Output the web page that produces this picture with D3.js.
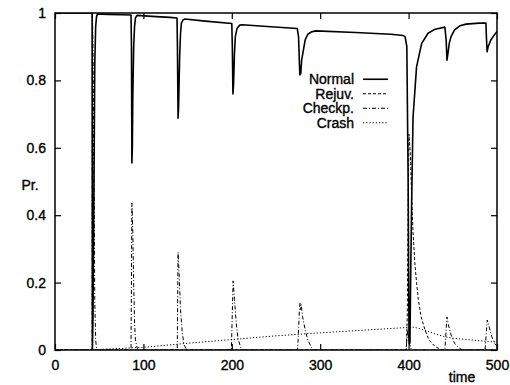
<!DOCTYPE html>
<html>
<head>
<meta charset="utf-8">
<script src="https://cdn.jsdelivr.net/npm/d3@7"></script>
<style>
  body { margin: 0; background: #fff; }
  svg text { font-family: "Liberation Sans", Arial, Helvetica, sans-serif; stroke: #000; stroke-width: 0.35px; }
</style>
</head>
<body>
<svg id="chart"></svg>
<script>
// values: [time, probability]
const normal = [
  [0, 1], [42, 1], [42.3, 0], [43, 0.1], [44, 0.45], [45, 0.85], [46, 0.96], [47, 0.99], [48, 0.997],
  [60, 0.996], [75, 0.995], [86, 0.994], [86.5, 0.9], [87, 0.555], [87.5, 0.6], [88, 0.75], [89, 0.9],
  [90, 0.96], [91, 0.985], [92, 0.99], [93, 0.993],
  [110, 0.99], [130, 0.987], [138, 0.985], [138.5, 0.9], [139.2, 0.688], [139.8, 0.72], [141, 0.87],
  [142, 0.94], [143, 0.97], [145, 0.98], [147, 0.982],
  [170, 0.976], [200, 0.969], [200.6, 0.9], [201.3, 0.76], [202, 0.79], [203, 0.88], [204, 0.93],
  [206, 0.955], [209, 0.964], [212, 0.965],
  [240, 0.96], [274, 0.954], [275.5, 0.93], [276.5, 0.85], [277, 0.816], [277.5, 0.84], [278, 0.82],
  [279, 0.86], [281, 0.89], [283, 0.92], [286, 0.937], [290, 0.944], [295, 0.947],
  [340, 0.942], [380, 0.937], [394, 0.933], [396, 0.93], [398, 0.9], [399.5, 0.5], [400.5, 0.02],
  [401.5, 0.02], [402.5, 0.25], [403.5, 0.445], [405, 0.69], [409, 0.84], [414.8, 0.91], [422, 0.94],
  [430, 0.952], [441, 0.958], [442.5, 0.92], [443.4, 0.86], [444.5, 0.88], [446, 0.91], [448, 0.93],
  [452, 0.95], [458, 0.962], [465, 0.967], [480, 0.97], [487.5, 0.97], [488, 0.93], [488.8, 0.885],
  [490, 0.9], [493, 0.92], [497, 0.935], [500, 0.945]
];

const rejuv = [
  [0, 0], [397.5, 0], [398.5, 0.1], [399.5, 0.45], [400.5, 0.64], [402, 0.58], [403.5, 0.45],
  [405, 0.35], [407, 0.26], [409, 0.2], [411, 0.15], [414, 0.1], [418.5, 0.06], [423, 0.03],
  [430, 0.01], [438, 0], [500, 0]
];

const checkp = [
  [0, 0], [42, 0], [42.3, 1], [43, 0.9], [44, 0.55], [45, 0.15], [46, 0.03], [47, 0.005], [48, 0],
  [86, 0], [87, 0.436], [88, 0.35], [89, 0.2], [90, 0.08], [91, 0.03], [93, 0.005], [95, 0],
  [138.3, 0], [139.2, 0.29], [140.5, 0.22], [142, 0.12], [144, 0.05], [146, 0.015], [149, 0],
  [199.5, 0], [201.5, 0.205], [203, 0.15], [205, 0.08], [207, 0.035], [210, 0.008], [212, 0],
  [274.5, 0], [276.5, 0.12], [277.2, 0.14], [278, 0.12], [278.5, 0.135], [280, 0.1], [283, 0.06],
  [286, 0.03], [290, 0.008], [293, 0],
  [397, 0], [399, 0.06], [400.5, 0.02], [403, 0.003], [405, 0],
  [441, 0], [443.4, 0.098], [445, 0.075], [448, 0.045], [452, 0.02], [456, 0.008], [461, 0],
  [486.5, 0], [489, 0.089], [491, 0.07], [494, 0.04], [497, 0.02], [500, 0.012]
];

const crash = [
  [0, 0], [44, 0], [60, 0.003], [100, 0.008], [150, 0.02], [200, 0.031], [250, 0.042],
  [300, 0.051], [350, 0.059], [400, 0.067], [405, 0.068], [412, 0.064], [420, 0.057],
  [430, 0.048], [440, 0.04], [450, 0.035], [470, 0.03], [490, 0.025], [500, 0.024]
];

const seriesNames = ["Normal", "Rejuv.", "Checkp.", "Crash"];
const xTicks = [0, 100, 200, 300, 400, 500];
const yTicks = [0, 0.2, 0.4, 0.6, 0.8, 1];

let width = 510;
let height = 385;
let margin = {top: 13, right: 13, bottom: 35, left: 55};

let svg = d3.select("#chart")
    .attr("width", width)
    .attr("height", height);

let xScale = d3.scaleLinear()
    .domain([0, 500])
    .range([margin.left, width - margin.right]);

let yScale = d3.scaleLinear()
    .domain([0, 1])
    .range([height - margin.bottom, margin.top]);

svg.append("defs").append("clipPath")
    .attr("id", "plot_clip")
    .append("rect")
    .attr("x", margin.left)
    .attr("y", margin.top)
    .attr("width", xScale(500) - xScale(0))
    .attr("height", yScale(0) - yScale(1));

const fmt = d3.format("~g");

// axes, ticks inside and mirrored like gnuplot
let x_axis = svg.append("g")
    .attr("transform", `translate(0, ${yScale(0)})`)
    .call(d3.axisBottom(xScale).tickValues(xTicks).tickFormat(fmt).tickSize(-6).tickPadding(10));

let x_axis_top = svg.append("g")
    .attr("transform", `translate(0, ${yScale(1)})`)
    .call(d3.axisTop(xScale).tickValues(xTicks).tickFormat("").tickSize(-6));

let y_axis = svg.append("g")
    .attr("transform", `translate(${xScale(0)}, 0)`)
    .call(d3.axisLeft(yScale).tickValues(yTicks).tickFormat(fmt).tickSize(-6).tickPadding(9));

let y_axis_right = svg.append("g")
    .attr("transform", `translate(${xScale(500)}, 0)`)
    .call(d3.axisRight(yScale).tickValues(yTicks).tickFormat("").tickSize(-6));

svg.selectAll(".domain").remove();
svg.selectAll(".tick line").attr("stroke", "#000").attr("stroke-width", 1.2);
svg.selectAll(".tick text")
    .attr("fill", "#000")
    .attr("font-size", 14)
    .attr("font-family", "'Liberation Sans', Arial, sans-serif");

let line = d3.line()
    .x(d => xScale(d[0]))
    .y(d => yScale(d[1]));

let styles = [
  {data: normal, width: 1.6, dash: null},
  {data: rejuv, width: 1, dash: "3,2"},
  {data: checkp, width: 1, dash: "4,2,1,2"},
  {data: crash, width: 1, dash: "1.2,2"}
];

let lines = svg.append("g").attr("clip-path", "url(#plot_clip)");
lines.selectAll("path")
    .data(styles)
    .join("path")
    .attr("d", d => line(d.data))
    .attr("fill", "none")
    .attr("stroke", "#000")
    .attr("stroke-width", d => d.width)
    .attr("stroke-dasharray", d => d.dash)
    .attr("stroke-linejoin", "round");

// plot border
svg.append("rect")
    .attr("x", xScale(0))
    .attr("y", yScale(1))
    .attr("width", xScale(500) - xScale(0))
    .attr("height", yScale(0) - yScale(1))
    .attr("fill", "none")
    .attr("stroke", "#000")
    .attr("stroke-width", 1.5);

// legend
let legend = svg.append("g");
let legendY = d3.scaleBand()
    .domain(seriesNames)
    .range([72, 130]);

seriesNames.forEach((name, i) => {
  let y = legendY(name) + legendY.bandwidth() / 2;
  legend.append("text")
      .attr("x", 354)
      .attr("y", y)
      .attr("dy", "0.35em")
      .attr("text-anchor", "end")
      .attr("font-size", 14)
      .text(name);
  legend.append("line")
      .attr("x1", 363)
      .attr("x2", 388)
      .attr("y1", y)
      .attr("y2", y)
      .attr("stroke", "#000")
      .attr("stroke-width", styles[i].width)
      .attr("stroke-dasharray", styles[i].dash);
});

// axis titles
svg.append("text")
    .attr("x", 30)
    .attr("y", 190)
    .attr("text-anchor", "middle")
    .attr("font-size", 14)
    .text("Pr.");

svg.append("text")
    .attr("x", 462)
    .attr("y", 382)
    .attr("text-anchor", "middle")
    .attr("font-size", 14)
    .text("time");
</script>
</body>
</html>
